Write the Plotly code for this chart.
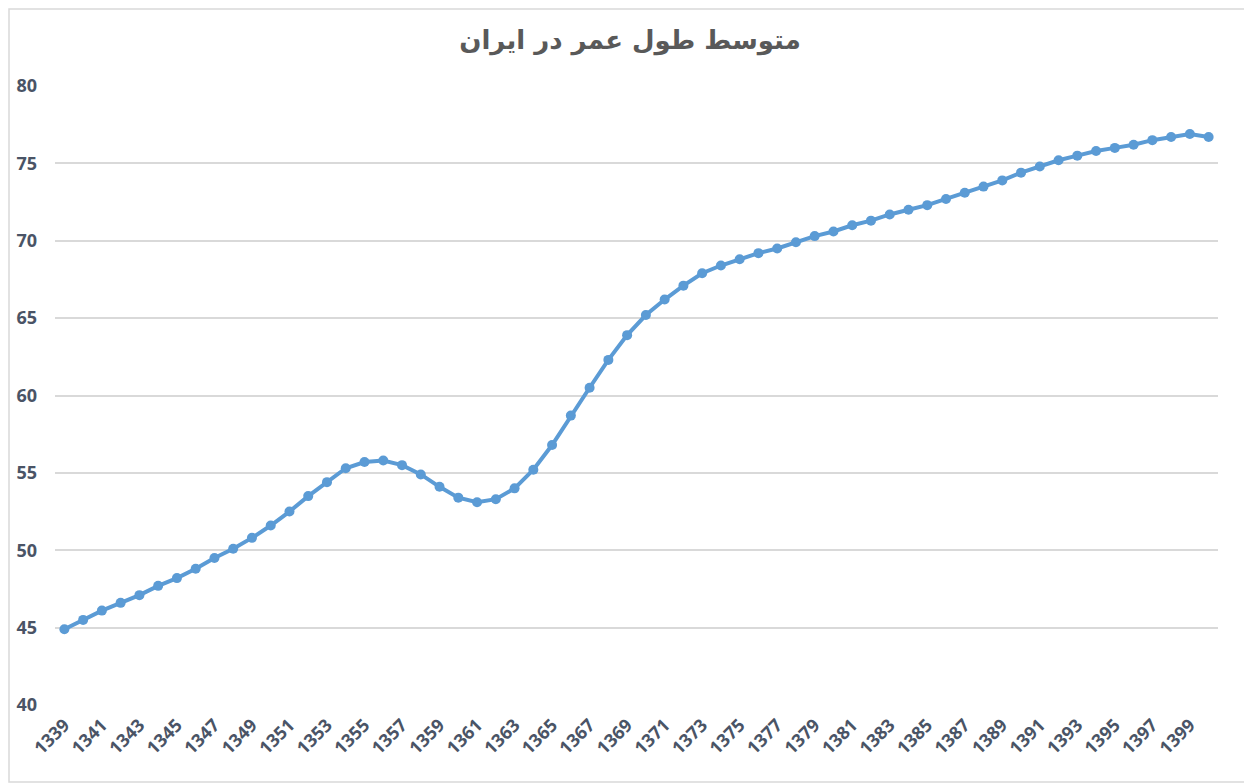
import plotly.graph_objects as go

# Iran life expectancy, solar hijri years
years = list(range(1339, 1401))
life_exp = [
    44.9, 45.5, 46.1, 46.6, 47.1, 47.7, 48.2, 48.8, 49.5, 50.1,
    50.8, 51.6, 52.5, 53.5, 54.4, 55.3, 55.7, 55.8, 55.5, 54.9,
    54.1, 53.4, 53.1, 53.3, 54.0, 55.2, 56.8, 58.7, 60.5, 62.3,
    63.9, 65.2, 66.2, 67.1, 67.9, 68.4, 68.8, 69.2, 69.5, 69.9,
    70.3, 70.6, 71.0, 71.3, 71.7, 72.0, 72.3, 72.7, 73.1, 73.5,
    73.9, 74.4, 74.8, 75.2, 75.5, 75.8, 76.0, 76.2, 76.5, 76.7,
    76.9, 76.7,
]
tick_years = years[::2]
title_text = 'متوسط طول عمر در ایران'

label_font = dict(family='Open Sans, sans-serif', size=18, color='#4a5466', weight='bold')

# page body has 8px margin, so the figure is a bit smaller than the window
W, H = 1244, 776
ML, MR, MT, MB = 47, 34, 78, 79
PW, PH = W - ML - MR, H - MT - MB

fig = go.Figure()
fig.add_trace(go.Scatter(x=years, y=life_exp,
                         mode='lines+markers',
                         line=dict(color='#5b9bd5', width=4),
                         marker=dict(color='#5b9bd5', size=10),
                         showlegend=False))

fig.update_layout(
    width=W, height=H,
    paper_bgcolor='white', plot_bgcolor='white',
    margin=dict(l=ML, r=MR, t=MT, b=MB, autoexpand=False),
    title=dict(text=title_text, x=0.5, xanchor='center', y=1 - 32 / H, yanchor='middle',
               font=dict(family='DejaVu Sans', size=26, color='#595959', weight='bold')),
)
fig.update_xaxes(range=[1338.5, 1400.5], tickvals=tick_years,
                 ticktext=[str(y) for y in tick_years],
                 tickangle=-45, tickfont=label_font, ticklabelstandoff=5,
                 showgrid=False, zeroline=False, showline=False, ticks='')
fig.update_yaxes(range=[40, 80], dtick=5, tickfont=label_font,
                 showgrid=True, gridcolor='#d9d9d9', gridwidth=1.5,
                 zeroline=False, showline=False, ticks='', ticklabelstandoff=17)

fig.add_shape(type='rect', xref='paper', yref='paper',
              x0=-(ML - 1) / PW, x1=1 + (MR - 3) / PW, y0=-(MB - 2) / PH, y1=1 + (MT - 1) / PH,
              line=dict(color='#d9d9d9', width=1.5))

fig.write_html("out.html")
